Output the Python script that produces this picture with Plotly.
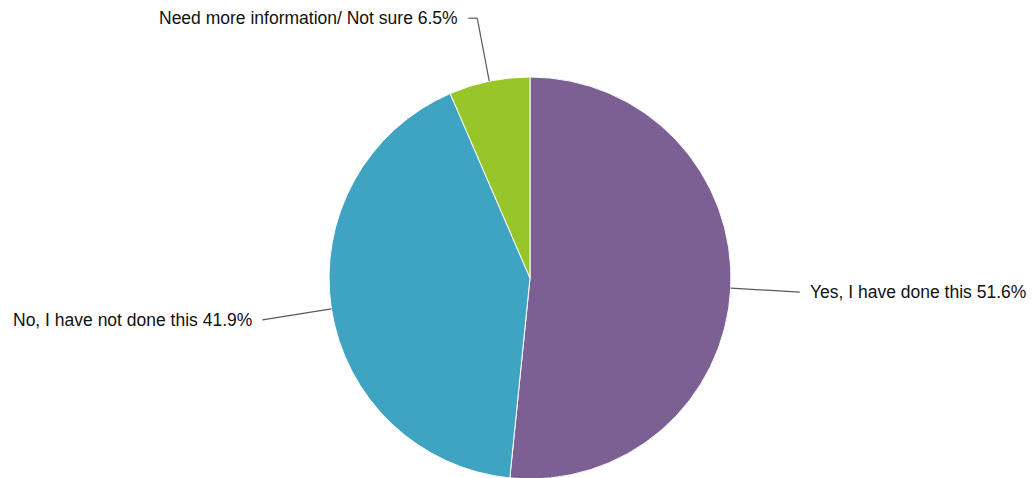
import numpy as np
import plotly.graph_objects as go

# Survey answers
labels = ["Yes, I have done this", "No, I have not done this", "Need more information/ Not sure"]
values = [51.6, 41.9, 6.5]
colors = ["#7d6093", "#3fa3c2", "#98c62a"]

W, H = 1035, 478
off = 8  # page body margin in the browser
cx, cy, r = 530 - off, 278 - off, 201  # pie centre / radius in px

fig = go.Figure()
fig.add_trace(go.Pie(
    labels=labels, values=values, sort=False, direction="clockwise", rotation=0,
    marker=dict(colors=colors, line=dict(color="white", width=1)),
    textinfo="none", hoverinfo="label+percent", showlegend=False,
    domain=dict(x=[(cx - r) / W, (cx + r) / W], y=[1 - (cy + r) / H, 1 - (cy - r) / H]),
))

# leader lines + labels, placed from slice mid-angles
def px(x, y):
    return x / W, 1 - y / H

cum = np.cumsum([0] + values[:-1])
shapes, annots = [], []
# (elbow dx, dy, end dx) per slice, in px from the edge point
offsets = [(69, 4, 0), (-69, 11, 0), (-12, -63, -9)]
for i, (lab, v) in enumerate(zip(labels, values)):
    ang = np.radians((cum[i] + v / 2) / 100 * 360)
    ex, ey = cx + r * np.sin(ang), cy - r * np.cos(ang)
    dx, dy, tail = offsets[i]
    bx, by = ex + dx, ey + dy
    pts = [(ex, ey), (bx, by)]
    if tail:
        pts.append((bx + tail, by))
    for (x0, y0), (x1, y1) in zip(pts[:-1], pts[1:]):
        a0, b0 = px(x0, y0)
        a1, b1 = px(x1, y1)
        shapes.append(dict(type="line", xref="paper", yref="paper", x0=a0, y0=b0, x1=a1, y1=b1,
                           line=dict(color="#5a5a5a", width=1.2)))
    lx, ly = pts[-1]
    right = lx > cx
    tx, ty = px(lx + (8 if right else -8), ly)
    annots.append(dict(x=tx, y=ty, xref="paper", yref="paper", showarrow=False,
                       text=f"{lab} {v}%", xanchor="left" if right else "right", yanchor="middle",
                       font=dict(size=17.5, color="#111111")))

fig.update_layout(
    width=W, height=H, margin=dict(l=0, r=0, t=0, b=0),
    paper_bgcolor="white", plot_bgcolor="white",
    font=dict(family="Liberation Sans, Arial, sans-serif"),
    shapes=shapes, annotations=annots,
)
fig.write_html("out.html")
